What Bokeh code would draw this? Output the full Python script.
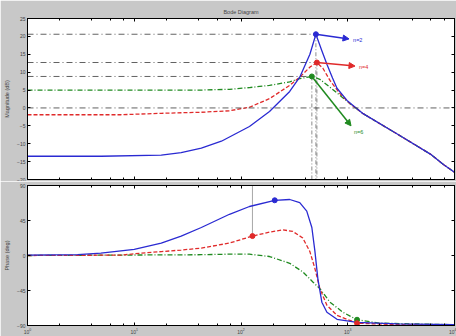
from bokeh.plotting import figure
from bokeh.layouts import column
from bokeh.models import (Range1d, LogAxis, LinearAxis, LogTicker, FixedTicker,
                          Span, Arrow, NormalHead, Label)
from bokeh.embed import file_html
from bokeh.resources import INLINE

# ---------------- data ----------------
# magnitude (dB)
w_mag_n2 = [1, 4.9, 17.9, 27.5, 42.5, 65.5, 120, 185, 286, 355, 442, 503, 572, 638, 720, 793, 984, 1393, 2909, 5943, 7870, 10000]
mag_n2 = [-13.5, -13.5, -13.2, -12.5, -11.2, -9.3, -5.2, -1.0, 4.6, 8.6, 15.0, 20.6, 16.0, 12.2, 8.4, 5.5, 2.1, -1.6, -7.3, -12.9, -15.8, -18.0]

w_mag_n4 = [1, 7.5, 17.9, 42.5, 78, 120, 185, 286, 355, 442, 514, 585, 681, 846, 1050, 1393, 2909, 5943, 7870, 10000]
mag_n4 = [-1.9, -1.9, -1.5, -1.2, -0.8, 0.2, 2.6, 6.3, 8.6, 11.4, 12.7, 11.1, 7.7, 4.0, 1.2, -1.6, -7.3, -12.9, -15.8, -18.0]

w_mag_n6 = [1, 42.5, 78, 120, 185, 286, 355, 461, 548, 681, 846, 1050, 1393, 2909, 5943, 7870, 10000]
mag_n6 = [5.0, 5.0, 5.2, 5.7, 6.3, 7.3, 8.2, 8.8, 8.0, 5.8, 3.5, 1.2, -1.6, -7.3, -12.9, -15.8, -18.0]

# phase (deg)
w_ph_n2 = [1, 2.95, 4.87, 10, 17.9, 27.5, 42.5, 78, 120, 207, 286, 355, 413, 461, 492, 525, 572, 638, 793, 1222, 2909, 10000]
ph_n2 = [0.5, 1, 3, 8, 16, 25, 36, 53, 63, 71, 72, 68, 57, 36, 6, -30, -60, -73, -82, -86, -88, -89]

w_ph_n4 = [1, 7.5, 11.6, 17.9, 27.5, 42.5, 78, 128, 185, 246, 305, 379, 442, 492, 548, 638, 793, 1222, 2909, 10000]
ph_n4 = [0, 0.5, 3, 5, 7, 9.5, 16, 25, 30, 33, 31, 22.5, 5, -16.5, -42.6, -64, -77, -87, -89, -89.5]

w_ph_n6 = [1, 42.5, 78, 120, 185, 286, 379, 471, 548, 681, 902, 1222, 2014, 10000]
ph_n6 = [0, 1, 1.7, 1.7, -1.3, -10, -21, -34, -42.6, -60, -73, -82.6, -87, -89]

# data-tip markers on the phase plot
tip_w = [207, 128, 1222, 1222]
tip_ph = [71, 25, -82.6, -87]
tip_series = ["n=2", "n=4", "n=6", "n=4"]

series_names = ["n=2", "n=4", "n=6"]
mag_ticks = [-20, -15, -10, -5, 0, 5, 10, 15, 20, 25]
phase_ticks = [-90, -45, 0, 45, 90]
freq_ticks = [1, 10, 100, 1000, 10000]
freq_tick_labels = ["10\u2070", "10\u00b9", "10\u00b2", "10\u00b3", "10\u2074"]

# annotation targets for the arrows/labels (frequency, dB)
label_pos = {"n=2": (1122, 19.0), "n=4": (1276, 11.4), "n=6": (1145, -6.7)}
arrow_end = {"n=2": (1028, 19.3), "n=4": (1170, 11.7), "n=6": (1073, -5.0)}

# ---------------- styling ----------------
BG = "#c8c8c8"
FONT = "Liberation Sans"
COL = {"n=2": "#2a2ad2", "n=4": "#e02a2a", "n=6": "#1f8a1f"}
DASH = {"n=2": "solid", "n=4": "4 2", "n=6": "5 2 1 2"}
REF = "#3a3a3a"


def hide_labels(ax):
    ax.major_label_text_font_size = "1px"
    ax.major_label_text_color = None
    ax.major_label_standoff = 0


def make_fig(height, yr, yticks, ylabel, show_x, min_top, min_bottom):
    p = figure(width=456, height=height, x_axis_type="log",
               x_range=Range1d(1, 1e4), y_range=Range1d(*yr),
               output_backend="svg", toolbar_location=None,
               background_fill_color="white", border_fill_color=BG,
               min_border_left=27, min_border_right=2,
               min_border_top=min_top, min_border_bottom=min_bottom,
               outline_line_color="black", outline_line_width=1)
    p.grid.visible = False
    # bottom x axis
    xa = p.xaxis[0]
    xa.ticker = LogTicker(desired_num_ticks=5)
    xa.major_tick_in = 3
    xa.major_tick_out = 0
    xa.minor_tick_in = 2
    xa.minor_tick_out = 0
    xa.axis_line_color = "black"
    if show_x:
        xa.major_label_overrides = {str(t): l for t, l in zip(freq_ticks, freq_tick_labels)}
        xa.major_label_text_font_size = "5px"
        xa.major_label_text_font = FONT
        xa.major_label_standoff = 2
    else:
        hide_labels(xa)
    # left y axis
    ya = p.yaxis[0]
    ya.ticker = FixedTicker(ticks=yticks)
    ya.major_tick_in = 3
    ya.major_tick_out = 0
    ya.minor_tick_in = 0
    ya.minor_tick_out = 0
    ya.major_label_text_font_size = "5px"
    ya.major_label_text_font = FONT
    ya.major_label_standoff = 2
    ya.axis_label = ylabel
    ya.axis_label_text_font_size = "5.5px"
    ya.axis_label_text_font = FONT
    ya.axis_label_text_font_style = "normal"
    ya.axis_label_standoff = 4
    # box ticks on top and right
    top = LogAxis(ticker=LogTicker(desired_num_ticks=5), major_tick_in=3, major_tick_out=0,
                  minor_tick_in=2, minor_tick_out=0)
    hide_labels(top)
    p.add_layout(top, "above")
    right = LinearAxis(ticker=FixedTicker(ticks=yticks), major_tick_in=3, major_tick_out=0,
                       minor_tick_in=0, minor_tick_out=0)
    hide_labels(right)
    p.add_layout(right, "right")
    return p


# ---------------- magnitude ----------------
p1 = make_fig(181, (-20, 25), mag_ticks, "Magnitude (dB)", False, 18, 2)
p1.title.text = "Bode Diagram"
p1.title.align = "center"
p1.title.text_font_size = "5.5px"
p1.title.text_font = FONT
p1.title.text_font_style = "normal"
p1.title.standoff = 7

mag = {"n=2": (w_mag_n2, mag_n2), "n=4": (w_mag_n4, mag_n4), "n=6": (w_mag_n6, mag_n6)}

p1.add_layout(Span(location=0, dimension="width", line_color=REF, line_dash="6 3 1 3", line_width=0.8))
for name in series_names:
    w, m = mag[name]
    i = max(range(len(m)), key=lambda k: m[k])
    pw, pm = w[i], m[i]
    p1.segment(x0=[1], y0=[pm], x1=[pw], y1=[pm], line_color=REF, line_dash="6 3 1 3", line_width=0.8)
    p1.segment(x0=[pw], y0=[pm], x1=[pw], y1=[-20], line_color="#707070", line_dash="4 2 1 2", line_width=0.8)

for name in ["n=6", "n=4", "n=2"]:
    w, m = mag[name]
    p1.line(w, m, line_color=COL[name], line_dash=DASH[name], line_width=1.3)

for name in series_names:
    w, m = mag[name]
    i = max(range(len(m)), key=lambda k: m[k])
    pw, pm = w[i], m[i]
    p1.scatter([pw], [pm], size=5, fill_color=COL[name], line_color=COL[name])
    ex, ey = arrow_end[name]
    p1.add_layout(Arrow(end=NormalHead(size=6, fill_color=COL[name], line_color=COL[name]),
                        x_start=pw, y_start=pm, x_end=ex, y_end=ey,
                        line_color=COL[name], line_width=1.5))
    lx, ly = label_pos[name]
    p1.add_layout(Label(x=lx, y=ly, text=name, text_color=COL[name], text_font_size="5.5px",
                        text_font=FONT, text_baseline="middle", text_align="left"))

# ---------------- phase ----------------
p2 = make_fig(155, (-90, 90), phase_ticks, "Phase (deg)", True, 4, 11)
ph = {"n=2": (w_ph_n2, ph_n2), "n=4": (w_ph_n4, ph_n4), "n=6": (w_ph_n6, ph_n6)}

# vertical data-tip line for the n=4 phase marker
p2.segment(x0=[tip_w[1]], y0=[tip_ph[1]], x1=[tip_w[1]], y1=[90], line_color="#909090", line_width=0.8)

for name in ["n=6", "n=4", "n=2"]:
    w, v = ph[name]
    p2.line(w, v, line_color=COL[name], line_dash=DASH[name], line_width=1.3)

p2.scatter(tip_w, tip_ph, size=5, fill_color=[COL[s] for s in tip_series],
           line_color=[COL[s] for s in tip_series])

layout = column(p1, p2, spacing=0)
open("out.html", "w").write(file_html(layout, INLINE))
